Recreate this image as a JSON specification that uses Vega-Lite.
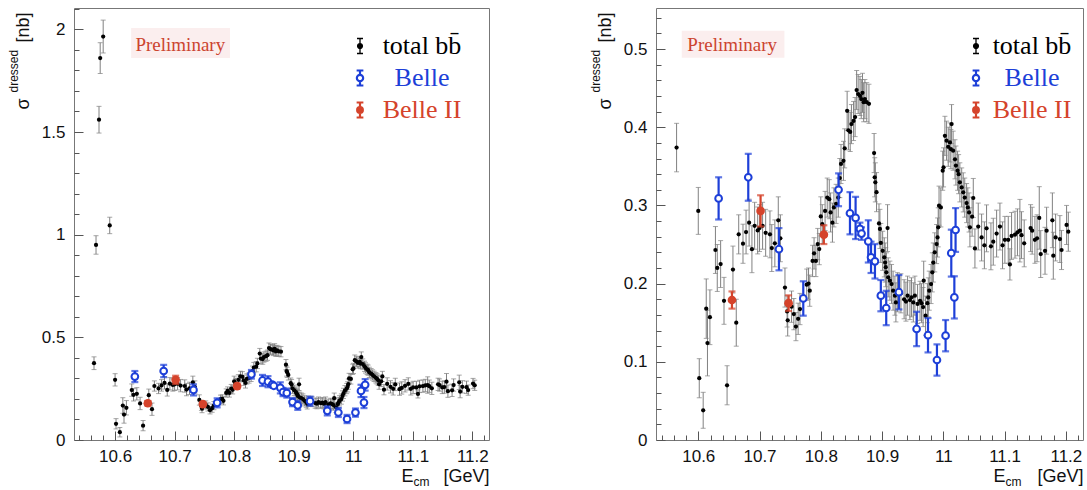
{
"$schema": "https://vega.github.io/schema/vega-lite/v6.json",
"background": "white",
"padding": {"left": 6, "top": 7, "right": 0, "bottom": 0},
"bounds": "flush",
"spacing": 167,
"datasets": {
"bb": [
{"E":10.5646,"s":0.374,"e":0.031},{"E":10.568,"s":0.95,"e":0.045},{"E":10.573,"s":1.56,"e":0.065},{"E":10.575,"s":1.86,"e":0.075},{"E":10.58,"s":1.965,"e":0.08},{"E":10.591,"s":1.045,"e":0.04},
{"E":10.6,"s":0.293,"e":0.03},{"E":10.6016,"s":0.079,"e":0.025},{"E":10.608,"s":0.038,"e":0.023},{"E":10.613,"s":0.168,"e":0.038},{"E":10.615,"s":0.124,"e":0.042},{"E":10.619,"s":0.157,"e":0.035},
{"E":10.628,"s":0.243,"e":0.03},{"E":10.631,"s":0.22,"e":0.03},{"E":10.6365,"s":0.225,"e":0.03},{"E":10.642,"s":0.178,"e":0.03},{"E":10.647,"s":0.07,"e":0.025},{"E":10.6566,"s":0.218,"e":0.03},
{"E":10.662,"s":0.15,"e":0.03},{"E":10.666,"s":0.263,"e":0.025},{"E":10.673,"s":0.251,"e":0.025},{"E":10.678,"s":0.266,"e":0.028},{"E":10.683,"s":0.278,"e":0.03},{"E":10.6876,"s":0.244,"e":0.03},
{"E":10.692,"s":0.274,"e":0.03},{"E":10.697,"s":0.268,"e":0.03},{"E":10.7,"s":0.271,"e":0.03},{"E":10.705,"s":0.274,"e":0.03},{"E":10.71,"s":0.265,"e":0.03},{"E":10.717,"s":0.263,"e":0.03},
{"E":10.72,"s":0.2455,"e":0.03},{"E":10.725,"s":0.2515,"e":0.03},{"E":10.7306,"s":0.281,"e":0.03},{"E":10.734,"s":0.258,"e":0.03},{"E":10.7415,"s":0.195,"e":0.025},{"E":10.745,"s":0.1645,"e":0.02},
{"E":10.746,"s":0.153,"e":0.02},{"E":10.7523,"s":0.1705,"e":0.02},{"E":10.756,"s":0.161,"e":0.02},{"E":10.7594,"s":0.145,"e":0.018},{"E":10.763,"s":0.155,"e":0.02},{"E":10.766,"s":0.1675,"e":0.02},
{"E":10.777,"s":0.1986,"e":0.02},{"E":10.78,"s":0.2,"e":0.02},{"E":10.782,"s":0.191,"e":0.02},{"E":10.7866,"s":0.229,"e":0.02},{"E":10.789,"s":0.2387,"e":0.02},{"E":10.792,"s":0.229,"e":0.02},
{"E":10.795,"s":0.2506,"e":0.02},{"E":10.7975,"s":0.2442,"e":0.02},{"E":10.8,"s":0.286,"e":0.025},{"E":10.8024,"s":0.276,"e":0.025},{"E":10.807,"s":0.293,"e":0.025},{"E":10.8105,"s":0.31,"e":0.025},
{"E":10.8138,"s":0.308,"e":0.025},{"E":10.816,"s":0.291,"e":0.025},{"E":10.819,"s":0.278,"e":0.025},{"E":10.8214,"s":0.2975,"e":0.025},{"E":10.825,"s":0.302,"e":0.025},{"E":10.8285,"s":0.31,"e":0.025},
{"E":10.831,"s":0.335,"e":0.025},{"E":10.833,"s":0.353,"e":0.025},{"E":10.837,"s":0.357,"e":0.025},{"E":10.839,"s":0.373,"e":0.025},{"E":10.843,"s":0.421,"e":0.025},{"E":10.845,"s":0.396,"e":0.025},
{"E":10.848,"s":0.394,"e":0.025},{"E":10.85,"s":0.404,"e":0.025},{"E":10.8535,"s":0.408,"e":0.025},{"E":10.856,"s":0.413,"e":0.025},{"E":10.8585,"s":0.4476,"e":0.025},{"E":10.861,"s":0.4425,"e":0.025},
{"E":10.864,"s":0.44,"e":0.025},{"E":10.866,"s":0.436,"e":0.025},{"E":10.868,"s":0.444,"e":0.025},{"E":10.87,"s":0.432,"e":0.025},{"E":10.872,"s":0.436,"e":0.025},{"E":10.875,"s":0.432,"e":0.025},
{"E":10.8786,"s":0.43,"e":0.025},{"E":10.887,"s":0.367,"e":0.025},{"E":10.888,"s":0.336,"e":0.025},{"E":10.889,"s":0.3295,"e":0.025},{"E":10.891,"s":0.317,"e":0.025},{"E":10.895,"s":0.277,"e":0.025},
{"E":10.8965,"s":0.27,"e":0.025},{"E":10.898,"s":0.252,"e":0.025},{"E":10.901,"s":0.242,"e":0.025},{"E":10.9036,"s":0.2336,"e":0.025},{"E":10.905,"s":0.227,"e":0.025},{"E":10.906,"s":0.221,"e":0.025},
{"E":10.907,"s":0.2144,"e":0.025},{"E":10.909,"s":0.271,"e":0.03},{"E":10.91,"s":0.208,"e":0.025},{"E":10.9128,"s":0.2038,"e":0.025},{"E":10.9155,"s":0.1995,"e":0.025},{"E":10.918,"s":0.191,"e":0.025},
{"E":10.921,"s":0.1846,"e":0.025},{"E":10.9226,"s":0.176,"e":0.025},{"E":10.925,"s":0.189,"e":0.025},{"E":10.9308,"s":0.1876,"e":0.025},{"E":10.936,"s":0.18,"e":0.025},{"E":10.939,"s":0.177,"e":0.025},
{"E":10.9417,"s":0.1846,"e":0.025},{"E":10.9455,"s":0.179,"e":0.025},{"E":10.948,"s":0.1825,"e":0.025},{"E":10.951,"s":0.176,"e":0.025},{"E":10.9536,"s":0.1846,"e":0.025},{"E":10.958,"s":0.174,"e":0.025},
{"E":10.962,"s":0.178,"e":0.025},{"E":10.9645,"s":0.175,"e":0.025},{"E":10.967,"s":0.17,"e":0.025},{"E":10.968,"s":0.2037,"e":0.025},{"E":10.971,"s":0.159,"e":0.025},{"E":10.974,"s":0.175,"e":0.025},
{"E":10.9754,"s":0.1824,"e":0.025},{"E":10.977,"s":0.191,"e":0.025},{"E":10.98,"s":0.1995,"e":0.025},{"E":10.982,"s":0.2144,"e":0.025},{"E":10.9836,"s":0.227,"e":0.025},{"E":10.986,"s":0.24,"e":0.025},
{"E":10.989,"s":0.2506,"e":0.025},{"E":10.9906,"s":0.259,"e":0.025},{"E":10.9917,"s":0.272,"e":0.025},{"E":10.993,"s":0.2997,"e":0.025},{"E":10.996,"s":0.2975,"e":0.025},{"E":10.999,"s":0.3444,"e":0.025},
{"E":11.0004,"s":0.3487,"e":0.025},{"E":11.0026,"s":0.389,"e":0.025},{"E":11.0053,"s":0.3828,"e":0.025},{"E":11.008,"s":0.375,"e":0.025},{"E":11.0108,"s":0.3806,"e":0.025},{"E":11.0124,"s":0.372,"e":0.025},
{"E":11.0135,"s":0.404,"e":0.025},{"E":11.016,"s":0.37,"e":0.025},{"E":11.019,"s":0.359,"e":0.025},{"E":11.0206,"s":0.351,"e":0.025},{"E":11.0233,"s":0.3444,"e":0.025},{"E":11.025,"s":0.34,"e":0.025},
{"E":11.027,"s":0.3295,"e":0.025},{"E":11.03,"s":0.323,"e":0.025},{"E":11.0325,"s":0.3167,"e":0.025},{"E":11.035,"s":0.31,"e":0.025},{"E":11.038,"s":0.303,"e":0.025},{"E":11.04,"s":0.2975,"e":0.025},
{"E":11.042,"s":0.291,"e":0.025},{"E":11.0434,"s":0.272,"e":0.025},{"E":11.047,"s":0.2856,"e":0.025},{"E":11.0489,"s":0.3095,"e":0.025},{"E":11.0516,"s":0.245,"e":0.025},{"E":11.057,"s":0.273,"e":0.03},
{"E":11.0625,"s":0.259,"e":0.03},{"E":11.067,"s":0.249,"e":0.03},{"E":11.0706,"s":0.2707,"e":0.03},{"E":11.0777,"s":0.2477,"e":0.03},{"E":11.0815,"s":0.2536,"e":0.03},{"E":11.087,"s":0.264,"e":0.03},
{"E":11.0924,"s":0.273,"e":0.03},{"E":11.0967,"s":0.249,"e":0.03},{"E":11.1005,"s":0.256,"e":0.03},{"E":11.106,"s":0.256,"e":0.03},{"E":11.1087,"s":0.2246,"e":0.02},{"E":11.1114,"s":0.261,"e":0.03},
{"E":11.117,"s":0.2626,"e":0.03},{"E":11.121,"s":0.2656,"e":0.03},{"E":11.125,"s":0.2677,"e":0.04},{"E":11.1277,"s":0.262,"e":0.03},{"E":11.132,"s":0.2515,"e":0.03},{"E":11.1425,"s":0.271,"e":0.03},
{"E":11.145,"s":0.2677,"e":0.03},{"E":11.1495,"s":0.256,"e":0.03},{"E":11.153,"s":0.258,"e":0.03},{"E":11.1566,"s":0.284,"e":0.04},{"E":11.159,"s":0.2378,"e":0.03},{"E":11.166,"s":0.242,"e":0.03},
{"E":11.1686,"s":0.2677,"e":0.03},{"E":11.178,"s":0.281,"e":0.035},{"E":11.1795,"s":0.2357,"e":0.03},{"E":11.1833,"s":0.259,"e":0.03},{"E":11.1903,"s":0.257,"e":0.03},{"E":11.193,"s":0.243,"e":0.025},
{"E":11.2012,"s":0.275,"e":0.025},{"E":11.204,"s":0.2664,"e":0.025}
],
"belle": [
{"E":10.6332,"s":0.309,"e":0.027},{"E":10.6816,"s":0.336,"e":0.03},{"E":10.7317,"s":0.244,"e":0.027},{"E":10.7714,"s":0.181,"e":0.022},{"E":10.829,"s":0.32,"e":0.021},{"E":10.8476,"s":0.29,"e":0.027},
{"E":10.8568,"s":0.284,"e":0.027},{"E":10.8639,"s":0.27,"e":0.008},{"E":10.8665,"s":0.264,"e":0.008},{"E":10.8775,"s":0.254,"e":0.027},{"E":10.882,"s":0.2336,"e":0.02},{"E":10.8884,"s":0.2285,"e":0.022},
{"E":10.898,"s":0.1846,"e":0.02},{"E":10.9068,"s":0.1688,"e":0.022},{"E":10.9275,"s":0.189,"e":0.022},{"E":10.9564,"s":0.142,"e":0.022},{"E":10.975,"s":0.134,"e":0.022},{"E":10.9896,"s":0.1023,"e":0.02},
{"E":11.0037,"s":0.1334,"e":0.02},{"E":11.013,"s":0.239,"e":0.03},{"E":11.018,"s":0.1824,"e":0.027},{"E":11.02,"s":0.2686,"e":0.028}
],
"belle2": [
{"E":10.655,"s":0.179,"e":0.011},{"E":10.7017,"s":0.293,"e":0.02},{"E":10.7474,"s":0.175,"e":0.01},{"E":10.805,"s":0.2626,"e":0.012}
]
},
"config": {
"view": {"stroke": "#777", "strokeWidth": 1},
"axis": {"grid": false, "domain": false, "labelFont": "Liberation Sans", "labelFontSize": 17, "labelColor": "#111", "titleFont": "Liberation Sans", "titleFontWeight": "normal", "titleColor": "#111", "tickColor": "#555", "tickWidth": 1, "labelFlush": false, "labelOverlap": false},
"legend": {"title": null, "symbolSize": 225, "symbolOpacity": 1, "labelFont": "Liberation Serif", "labelFontSize": 26, "labelAlign": "center", "rowPadding": 6, "padding": 0, "labelLimit": 400,
 "labelColor": {"expr": "datum.value === 'Belle' ? '#1d3fd8' : datum.value === 'Belle II' ? '#d5432b' : 'black'"}}
},
"resolve": {"scale": {"fill": "independent", "stroke": "independent", "shape": "independent", "strokeWidth": "independent"}, "legend": {"fill": "independent", "stroke": "independent", "shape": "independent", "strokeWidth": "independent"}},
"hconcat": [
{
"width": 415, "height": 432,
"resolve": {"axis": {"x": "independent", "y": "independent"}},
"layer": [
{"data": {"name": "bb"}, "mark": {"type": "errorbar", "thickness": 1, "rule": {"color": "#808080"}, "ticks": {"size": 5, "color": "#808080"}},
 "encoding": {"x": {"field": "E", "type": "quantitative", "scale": {"domain": [10.531, 11.228], "nice": false, "zero": false}, "axis": null},
  "y": {"field": "s", "type": "quantitative", "scale": {"domain": [0, 2.104], "nice": false}, "axis": null}, "yError": {"field": "e"}}},
{"data": {"name": "bb"}, "mark": {"type": "circle", "size": 18, "opacity": 1, "color": "black"},
 "encoding": {"x": {"field": "E", "type": "quantitative", "axis": null}, "y": {"field": "s", "type": "quantitative", "axis": null}}},
{"data": {"name": "belle"}, "mark": {"type": "errorbar", "thickness": 2.2, "rule": {"color": "#1d3fd8"}, "ticks": {"size": 7, "color": "#1d3fd8"}},
 "encoding": {"x": {"field": "E", "type": "quantitative", "axis": null}, "y": {"field": "s", "type": "quantitative", "axis": null}, "yError": {"field": "e"}}},
{"data": {"name": "belle"}, "mark": {"type": "point", "shape": "circle", "filled": false, "fill": "white", "stroke": "#1d3fd8", "size": 45, "strokeWidth": 2, "opacity": 1},
 "encoding": {"x": {"field": "E", "type": "quantitative", "axis": null}, "y": {"field": "s", "type": "quantitative", "axis": null}}},
{"data": {"name": "belle2"}, "mark": {"type": "errorbar", "thickness": 2.2, "rule": {"color": "#d5432b"}, "ticks": {"size": 7, "color": "#d5432b"}},
 "encoding": {"x": {"field": "E", "type": "quantitative", "axis": null}, "y": {"field": "s", "type": "quantitative", "axis": null}, "yError": {"field": "e"}}},
{"data": {"name": "belle2"}, "mark": {"type": "circle", "size": 75, "opacity": 1, "color": "#d5432b"},
 "encoding": {"x": {"field": "E", "type": "quantitative", "axis": null}, "y": {"field": "s", "type": "quantitative", "axis": null}}},
{"data": {"values": [{"label": "Preliminary"}]}, "mark": {"type": "rect", "color": "#fbeeee"},
 "encoding": {"x": {"datum": 10.627, "type": "quantitative", "axis": null}, "x2": {"datum": 10.793}, "y": {"datum": 2.006, "type": "quantitative", "axis": null}, "y2": {"datum": 1.86}}},
{"data": {"values": [{"label": "Preliminary"}]}, "mark": {"type": "text", "font": "Liberation Serif", "fontSize": 19, "color": "#cc4430", "align": "center", "baseline": "alphabetic"},
 "encoding": {"x": {"datum": 10.7095, "type": "quantitative", "axis": null}, "y": {"datum": 1.894, "type": "quantitative", "axis": null}, "text": {"field": "label"}}},
{"data": {"name": "belle2"}, "mark": {"type": "point", "opacity": 0},
 "encoding": {"x": {"field": "E", "type": "quantitative", "axis": null}, "y": {"field": "s", "type": "quantitative", "axis": null},
  "fill": {"datum": "total bb\u0304", "type": "nominal", "scale": {"domain": ["total bb\u0304", "Belle", "Belle II"], "range": ["#000000", "#ffffff", "#d5432b"]}, "legend": {"orient": "none", "legendX": 273, "legendY": 25, "labelOffset": 49}},
  "stroke": {"datum": "total bb\u0304", "type": "nominal", "scale": {"domain": ["total bb\u0304", "Belle", "Belle II"], "range": ["#000000", "#1d3fd8", "#d5432b"]}, "legend": {"orient": "none", "legendX": 273, "legendY": 25, "labelOffset": 49}},
  "shape": {"datum": "total bb\u0304", "type": "nominal", "scale": {"domain": ["total bb\u0304", "Belle", "Belle II"], "range": [
    "M0,-1L0,1M-0.4,-1L0.4,-1M-0.4,1L0.4,1M-0.32,0A0.32,0.32,0,1,1,0.32,0A0.32,0.32,0,1,1,-0.32,0Z",
    "M0,-1L0,-0.42M0,0.42L0,1M-0.45,-1L0.45,-1M-0.45,1L0.45,1M-0.42,0A0.42,0.42,0,1,1,0.42,0A0.42,0.42,0,1,1,-0.42,0Z",
    "M0,-1L0,1M-0.45,-1L0.45,-1M-0.45,1L0.45,1M-0.38,0A0.38,0.38,0,1,1,0.38,0A0.38,0.38,0,1,1,-0.38,0Z"]}, "legend": {"orient": "none", "legendX": 273, "legendY": 25, "labelOffset": 49}},
  "strokeWidth": {"datum": "total bb\u0304", "type": "nominal", "scale": {"type": "ordinal", "domain": ["total bb\u0304", "Belle", "Belle II"], "range": [1.3, 2.2, 2.2]}, "legend": {"orient": "none", "legendX": 273, "legendY": 25, "labelOffset": 49}}}},
{"data": {"name": "belle2"}, "mark": {"type": "point", "opacity": 0},
 "encoding": {"x": {"field": "E", "type": "quantitative",
   "axis": {"orient": "bottom", "values": [10.6, 10.7, 10.8, 10.9, 11, 11.1, 11.2], "format": "~g", "tickSize": -9, "labelPadding": 17, "title": "[GeV]", "titleX": 415, "titleY": 41, "titleAlign": "right", "titleBaseline": "alphabetic", "titleFontSize": 18, "titleAngle": 0}},
  "y": {"field": "s", "type": "quantitative",
   "axis": {"orient": "left", "values": [0, 0.5, 1, 1.5, 2], "format": "~g", "tickSize": -9, "labelPadding": 18, "title": "[nb]", "titleX": -46, "titleY": 34, "titleAlign": "left", "titleBaseline": "alphabetic", "titleAngle": 270, "titleFontSize": 18}}}},
{"data": {"name": "belle2"}, "mark": {"type": "point", "opacity": 0},
 "encoding": {"x": {"field": "E", "type": "quantitative",
   "axis": {"orient": "bottom", "values": [10.54,10.56,10.58,10.62,10.64,10.66,10.68,10.72,10.74,10.76,10.78,10.82,10.84,10.86,10.88,10.92,10.94,10.96,10.98,11.02,11.04,11.06,11.08,11.12,11.14,11.16,11.18,11.22], "labels": false, "tickSize": -5, "title": "E", "titleX": 327, "titleY": 41, "titleAlign": "left", "titleBaseline": "alphabetic", "titleFontSize": 18, "titleAngle": 0}},
  "y": {"field": "s", "type": "quantitative",
   "axis": {"orient": "left", "values": [0.1,0.2,0.3,0.4,0.6,0.7,0.8,0.9,1.1,1.2,1.3,1.4,1.6,1.7,1.8,1.9,2.1], "labels": false, "tickSize": -5, "title": "σ", "titleX": -46, "titleY": 101, "titleAlign": "left", "titleBaseline": "alphabetic", "titleAngle": 270, "titleFontSize": 18}}}},
{"data": {"name": "belle2"}, "mark": {"type": "point", "opacity": 0},
 "encoding": {"x": {"field": "E", "type": "quantitative",
   "axis": {"orient": "bottom", "ticks": false, "labels": false, "title": "cm", "titleX": 339, "titleY": 45, "titleAlign": "left", "titleBaseline": "alphabetic", "titleFontSize": 12, "titleAngle": 0}},
  "y": {"field": "s", "type": "quantitative",
   "axis": {"orient": "left", "ticks": false, "labels": false, "title": "dressed", "titleX": -57, "titleY": 84, "titleAlign": "left", "titleBaseline": "alphabetic", "titleAngle": 270, "titleFontSize": 12}}}}
]
},
{
"width": 427, "height": 432,
"resolve": {"axis": {"x": "independent", "y": "independent"}},
"layer": [
{"data": {"name": "bb"}, "transform": [{"filter": "datum.s < 0.6"}], "mark": {"type": "errorbar", "thickness": 1, "rule": {"color": "#808080"}, "ticks": {"size": 5, "color": "#808080"}},
 "encoding": {"x": {"field": "E", "type": "quantitative", "scale": {"domain": [10.531, 11.228], "nice": false, "zero": false}, "axis": null},
  "y": {"field": "s", "type": "quantitative", "scale": {"domain": [0, 0.5525], "nice": false}, "axis": null}, "yError": {"field": "e"}}},
{"data": {"name": "bb"}, "transform": [{"filter": "datum.s < 0.6"}], "mark": {"type": "circle", "size": 18, "opacity": 1, "color": "black"},
 "encoding": {"x": {"field": "E", "type": "quantitative", "axis": null}, "y": {"field": "s", "type": "quantitative", "axis": null}}},
{"data": {"name": "belle"}, "mark": {"type": "errorbar", "thickness": 2.2, "rule": {"color": "#1d3fd8"}, "ticks": {"size": 7, "color": "#1d3fd8"}},
 "encoding": {"x": {"field": "E", "type": "quantitative", "axis": null}, "y": {"field": "s", "type": "quantitative", "axis": null}, "yError": {"field": "e"}}},
{"data": {"name": "belle"}, "mark": {"type": "point", "shape": "circle", "filled": false, "fill": "white", "stroke": "#1d3fd8", "size": 45, "strokeWidth": 2, "opacity": 1},
 "encoding": {"x": {"field": "E", "type": "quantitative", "axis": null}, "y": {"field": "s", "type": "quantitative", "axis": null}}},
{"data": {"name": "belle2"}, "mark": {"type": "errorbar", "thickness": 2.2, "rule": {"color": "#d5432b"}, "ticks": {"size": 7, "color": "#d5432b"}},
 "encoding": {"x": {"field": "E", "type": "quantitative", "axis": null}, "y": {"field": "s", "type": "quantitative", "axis": null}, "yError": {"field": "e"}}},
{"data": {"name": "belle2"}, "mark": {"type": "circle", "size": 75, "opacity": 1, "color": "#d5432b"},
 "encoding": {"x": {"field": "E", "type": "quantitative", "axis": null}, "y": {"field": "s", "type": "quantitative", "axis": null}}},
{"data": {"values": [{"label": "Preliminary"}]}, "mark": {"type": "rect", "color": "#fbeeee"},
 "encoding": {"x": {"datum": 10.573, "type": "quantitative", "axis": null}, "x2": {"datum": 10.7406}, "y": {"datum": 0.5234, "type": "quantitative", "axis": null}, "y2": {"datum": 0.4889}}},
{"data": {"values": [{"label": "Preliminary"}]}, "mark": {"type": "text", "font": "Liberation Serif", "fontSize": 19, "color": "#cc4430", "align": "center", "baseline": "alphabetic"},
 "encoding": {"x": {"datum": 10.6554, "type": "quantitative", "axis": null}, "y": {"datum": 0.4979, "type": "quantitative", "axis": null}, "text": {"field": "label"}}},
{"data": {"name": "belle2"}, "mark": {"type": "point", "opacity": 0},
 "encoding": {"x": {"field": "E", "type": "quantitative", "axis": null}, "y": {"field": "s", "type": "quantitative", "axis": null},
  "fill": {"datum": "total bb\u0304", "type": "nominal", "scale": {"domain": ["total bb\u0304", "Belle", "Belle II"], "range": ["#000000", "#ffffff", "#d5432b"]}, "legend": {"orient": "none", "legendX": 307, "legendY": 25, "labelOffset": 43}},
  "stroke": {"datum": "total bb\u0304", "type": "nominal", "scale": {"domain": ["total bb\u0304", "Belle", "Belle II"], "range": ["#000000", "#1d3fd8", "#d5432b"]}, "legend": {"orient": "none", "legendX": 307, "legendY": 25, "labelOffset": 43}},
  "shape": {"datum": "total bb\u0304", "type": "nominal", "scale": {"domain": ["total bb\u0304", "Belle", "Belle II"], "range": [
    "M0,-1L0,1M-0.4,-1L0.4,-1M-0.4,1L0.4,1M-0.32,0A0.32,0.32,0,1,1,0.32,0A0.32,0.32,0,1,1,-0.32,0Z",
    "M0,-1L0,-0.42M0,0.42L0,1M-0.45,-1L0.45,-1M-0.45,1L0.45,1M-0.42,0A0.42,0.42,0,1,1,0.42,0A0.42,0.42,0,1,1,-0.42,0Z",
    "M0,-1L0,1M-0.45,-1L0.45,-1M-0.45,1L0.45,1M-0.38,0A0.38,0.38,0,1,1,0.38,0A0.38,0.38,0,1,1,-0.38,0Z"]}, "legend": {"orient": "none", "legendX": 307, "legendY": 25, "labelOffset": 43}},
  "strokeWidth": {"datum": "total bb\u0304", "type": "nominal", "scale": {"type": "ordinal", "domain": ["total bb\u0304", "Belle", "Belle II"], "range": [1.3, 2.2, 2.2]}, "legend": {"orient": "none", "legendX": 307, "legendY": 25, "labelOffset": 43}}}},
{"data": {"name": "belle2"}, "mark": {"type": "point", "opacity": 0},
 "encoding": {"x": {"field": "E", "type": "quantitative",
   "axis": {"orient": "bottom", "values": [10.6, 10.7, 10.8, 10.9, 11, 11.1, 11.2], "format": "~g", "tickSize": -9, "labelPadding": 17, "title": "[GeV]", "titleX": 427, "titleY": 41, "titleAlign": "right", "titleBaseline": "alphabetic", "titleFontSize": 18, "titleAngle": 0}},
  "y": {"field": "s", "type": "quantitative",
   "axis": {"orient": "left", "values": [0, 0.1, 0.2, 0.3, 0.4, 0.5], "format": "~g", "tickSize": -9, "labelPadding": 18, "title": "[nb]", "titleX": -46, "titleY": 34, "titleAlign": "left", "titleBaseline": "alphabetic", "titleAngle": 270, "titleFontSize": 18}}}},
{"data": {"name": "belle2"}, "mark": {"type": "point", "opacity": 0},
 "encoding": {"x": {"field": "E", "type": "quantitative",
   "axis": {"orient": "bottom", "values": [10.54,10.56,10.58,10.62,10.64,10.66,10.68,10.72,10.74,10.76,10.78,10.82,10.84,10.86,10.88,10.92,10.94,10.96,10.98,11.02,11.04,11.06,11.08,11.12,11.14,11.16,11.18,11.22], "labels": false, "tickSize": -5, "title": "E", "titleX": 337, "titleY": 41, "titleAlign": "left", "titleBaseline": "alphabetic", "titleFontSize": 18, "titleAngle": 0}},
  "y": {"field": "s", "type": "quantitative",
   "axis": {"orient": "left", "values": [0.02,0.04,0.06,0.08,0.12,0.14,0.16,0.18,0.22,0.24,0.26,0.28,0.32,0.34,0.36,0.38,0.42,0.44,0.46,0.48,0.52,0.54], "labels": false, "tickSize": -5, "title": "σ", "titleX": -46, "titleY": 101, "titleAlign": "left", "titleBaseline": "alphabetic", "titleAngle": 270, "titleFontSize": 18}}}},
{"data": {"name": "belle2"}, "mark": {"type": "point", "opacity": 0},
 "encoding": {"x": {"field": "E", "type": "quantitative",
   "axis": {"orient": "bottom", "ticks": false, "labels": false, "title": "cm", "titleX": 349, "titleY": 45, "titleAlign": "left", "titleBaseline": "alphabetic", "titleFontSize": 12, "titleAngle": 0}},
  "y": {"field": "s", "type": "quantitative",
   "axis": {"orient": "left", "ticks": false, "labels": false, "title": "dressed", "titleX": -57, "titleY": 84, "titleAlign": "left", "titleBaseline": "alphabetic", "titleAngle": 270, "titleFontSize": 12}}}}
]
}
]
}
